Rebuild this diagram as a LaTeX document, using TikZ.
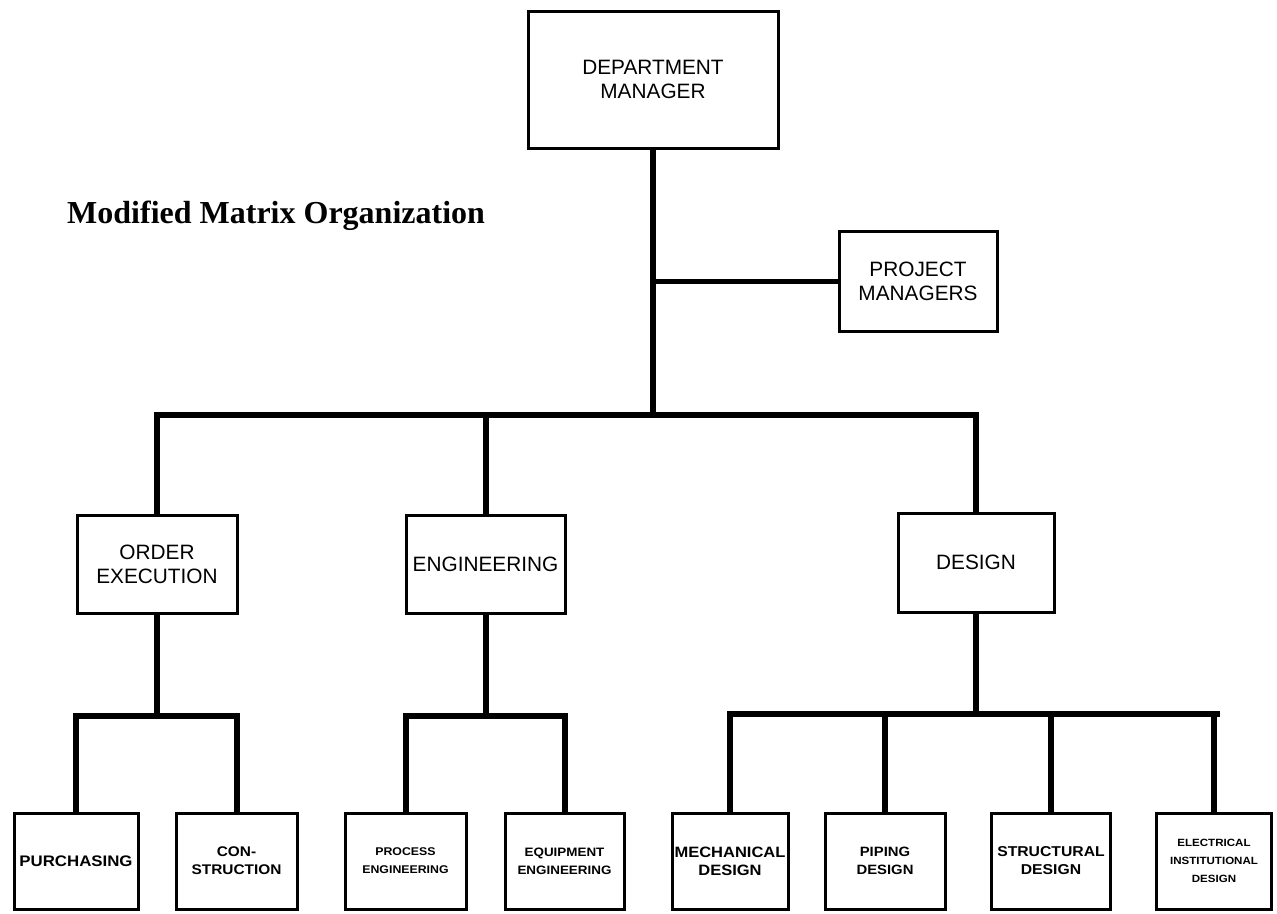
\documentclass[tikz,border=0pt]{standalone}
\usepackage{fontspec}
\setmainfont{Liberation Sans}
\newfontfamily\titlefont{Liberation Serif}
\newfontfamily\unitfont[FakeStretch=1.1]{Liberation Sans}

\tikzset{
  box/.style={draw, line width=3pt, inner sep=0pt, outer sep=0pt, align=center,
              font=\fontsize{20.8}{24}\selectfont},
  unit/.style={box, minimum height=96pt, font=\unitfont\bfseries\fontsize{#1}{18}\selectfont},
  link/.style={line width=6pt, line join=miter}
}

\begin{document}
\begin{tikzpicture}[x=1pt, y=-1pt]
  % page area
  \fill[white] (0,0) rectangle (1277,913);
  \useasboundingbox (0,0) rectangle (1277,913);

  % heading
  \node[anchor=base west, inner sep=0pt, font=\titlefont\bfseries\fontsize{32}{38}\selectfont]
    (title) at (67,223) {Modified Matrix Organization};

  % top of the chart
  \node[box, minimum width=250pt, minimum height=137pt] (dm) at (653,79.5) {DEPARTMENT\\MANAGER};
  \node[box, minimum width=158pt, minimum height=100pt] (pm) at (918,281) {PROJECT\\MANAGERS};

  % divisions
  \node[box, minimum width=160pt, minimum height=98pt] (oe)  at (157,564)   {ORDER\\EXECUTION};
  \node[box, minimum width=159pt, minimum height=98pt] (eng) at (485.5,564) {ENGINEERING};
  \node[box, minimum width=156pt, minimum height=99pt] (des) at (976,562.5) {DESIGN};

  % sections
  \node[unit=15.3, minimum width=124pt] (pur)    at (76,861)    {PURCHASING};
  \node[unit=14,   minimum width=121pt] (con)    at (236.5,861) {CON-\\STRUCTION};
  \node[unit=11.2, minimum width=121pt] (proc)   at (405.5,861) {PROCESS\\ENGINEERING};
  \node[unit=12.2, minimum width=119pt] (equip)  at (564.5,861) {EQUIPMENT\\ENGINEERING};
  \node[unit=15,   minimum width=116pt] (mech)   at (730,861)   {MECHANICAL\\DESIGN};
  \node[unit=13.5, minimum width=120pt] (pipe)   at (885,861)   {PIPING\\DESIGN};
  \node[unit=14.3, minimum width=119pt] (struct) at (1051,861)  {STRUCTURAL\\DESIGN};
  \node[unit=10.5, minimum width=115pt] (elec)   at (1214,861)  {ELECTRICAL\\INSTITUTIONAL\\DESIGN};

  % bus levels
  \coordinate (bus)  at (0,415);
  \coordinate (subA) at (0,716);
  \coordinate (subB) at (0,716);
  \coordinate (subC) at (0,714);
  \coordinate (busend) at (1220,714);

  % department manager to divisions and project managers
  \draw[link] (dm.south) -- (dm.south |- bus);
  \draw[link, line width=5pt] (dm.south |- pm) -- (pm.west);
  \draw[link] (oe.north) |- (dm.south |- bus) -| (des.north);
  \draw[link] (eng.north) -- (eng.north |- bus);

  % order execution
  \draw[link] (oe.south) -- (oe.south |- subA);
  \draw[link] (pur.north) |- (con.north |- subA) -- (con.north);

  % engineering
  \draw[link] (eng.south) -- (eng.south |- subB);
  \draw[link] (proc.north) |- (equip.north |- subB) -- (equip.north);

  % design
  \draw[link] (des.south) -- (des.south |- subC);
  \draw[link] (mech.north) |- (busend);
  \draw[link] (elec.north) -- (elec.north |- subC);
  \draw[link] (pipe.north) -- (pipe.north |- subC);
  \draw[link] (struct.north) -- (struct.north |- subC);
\end{tikzpicture}
\end{document}
